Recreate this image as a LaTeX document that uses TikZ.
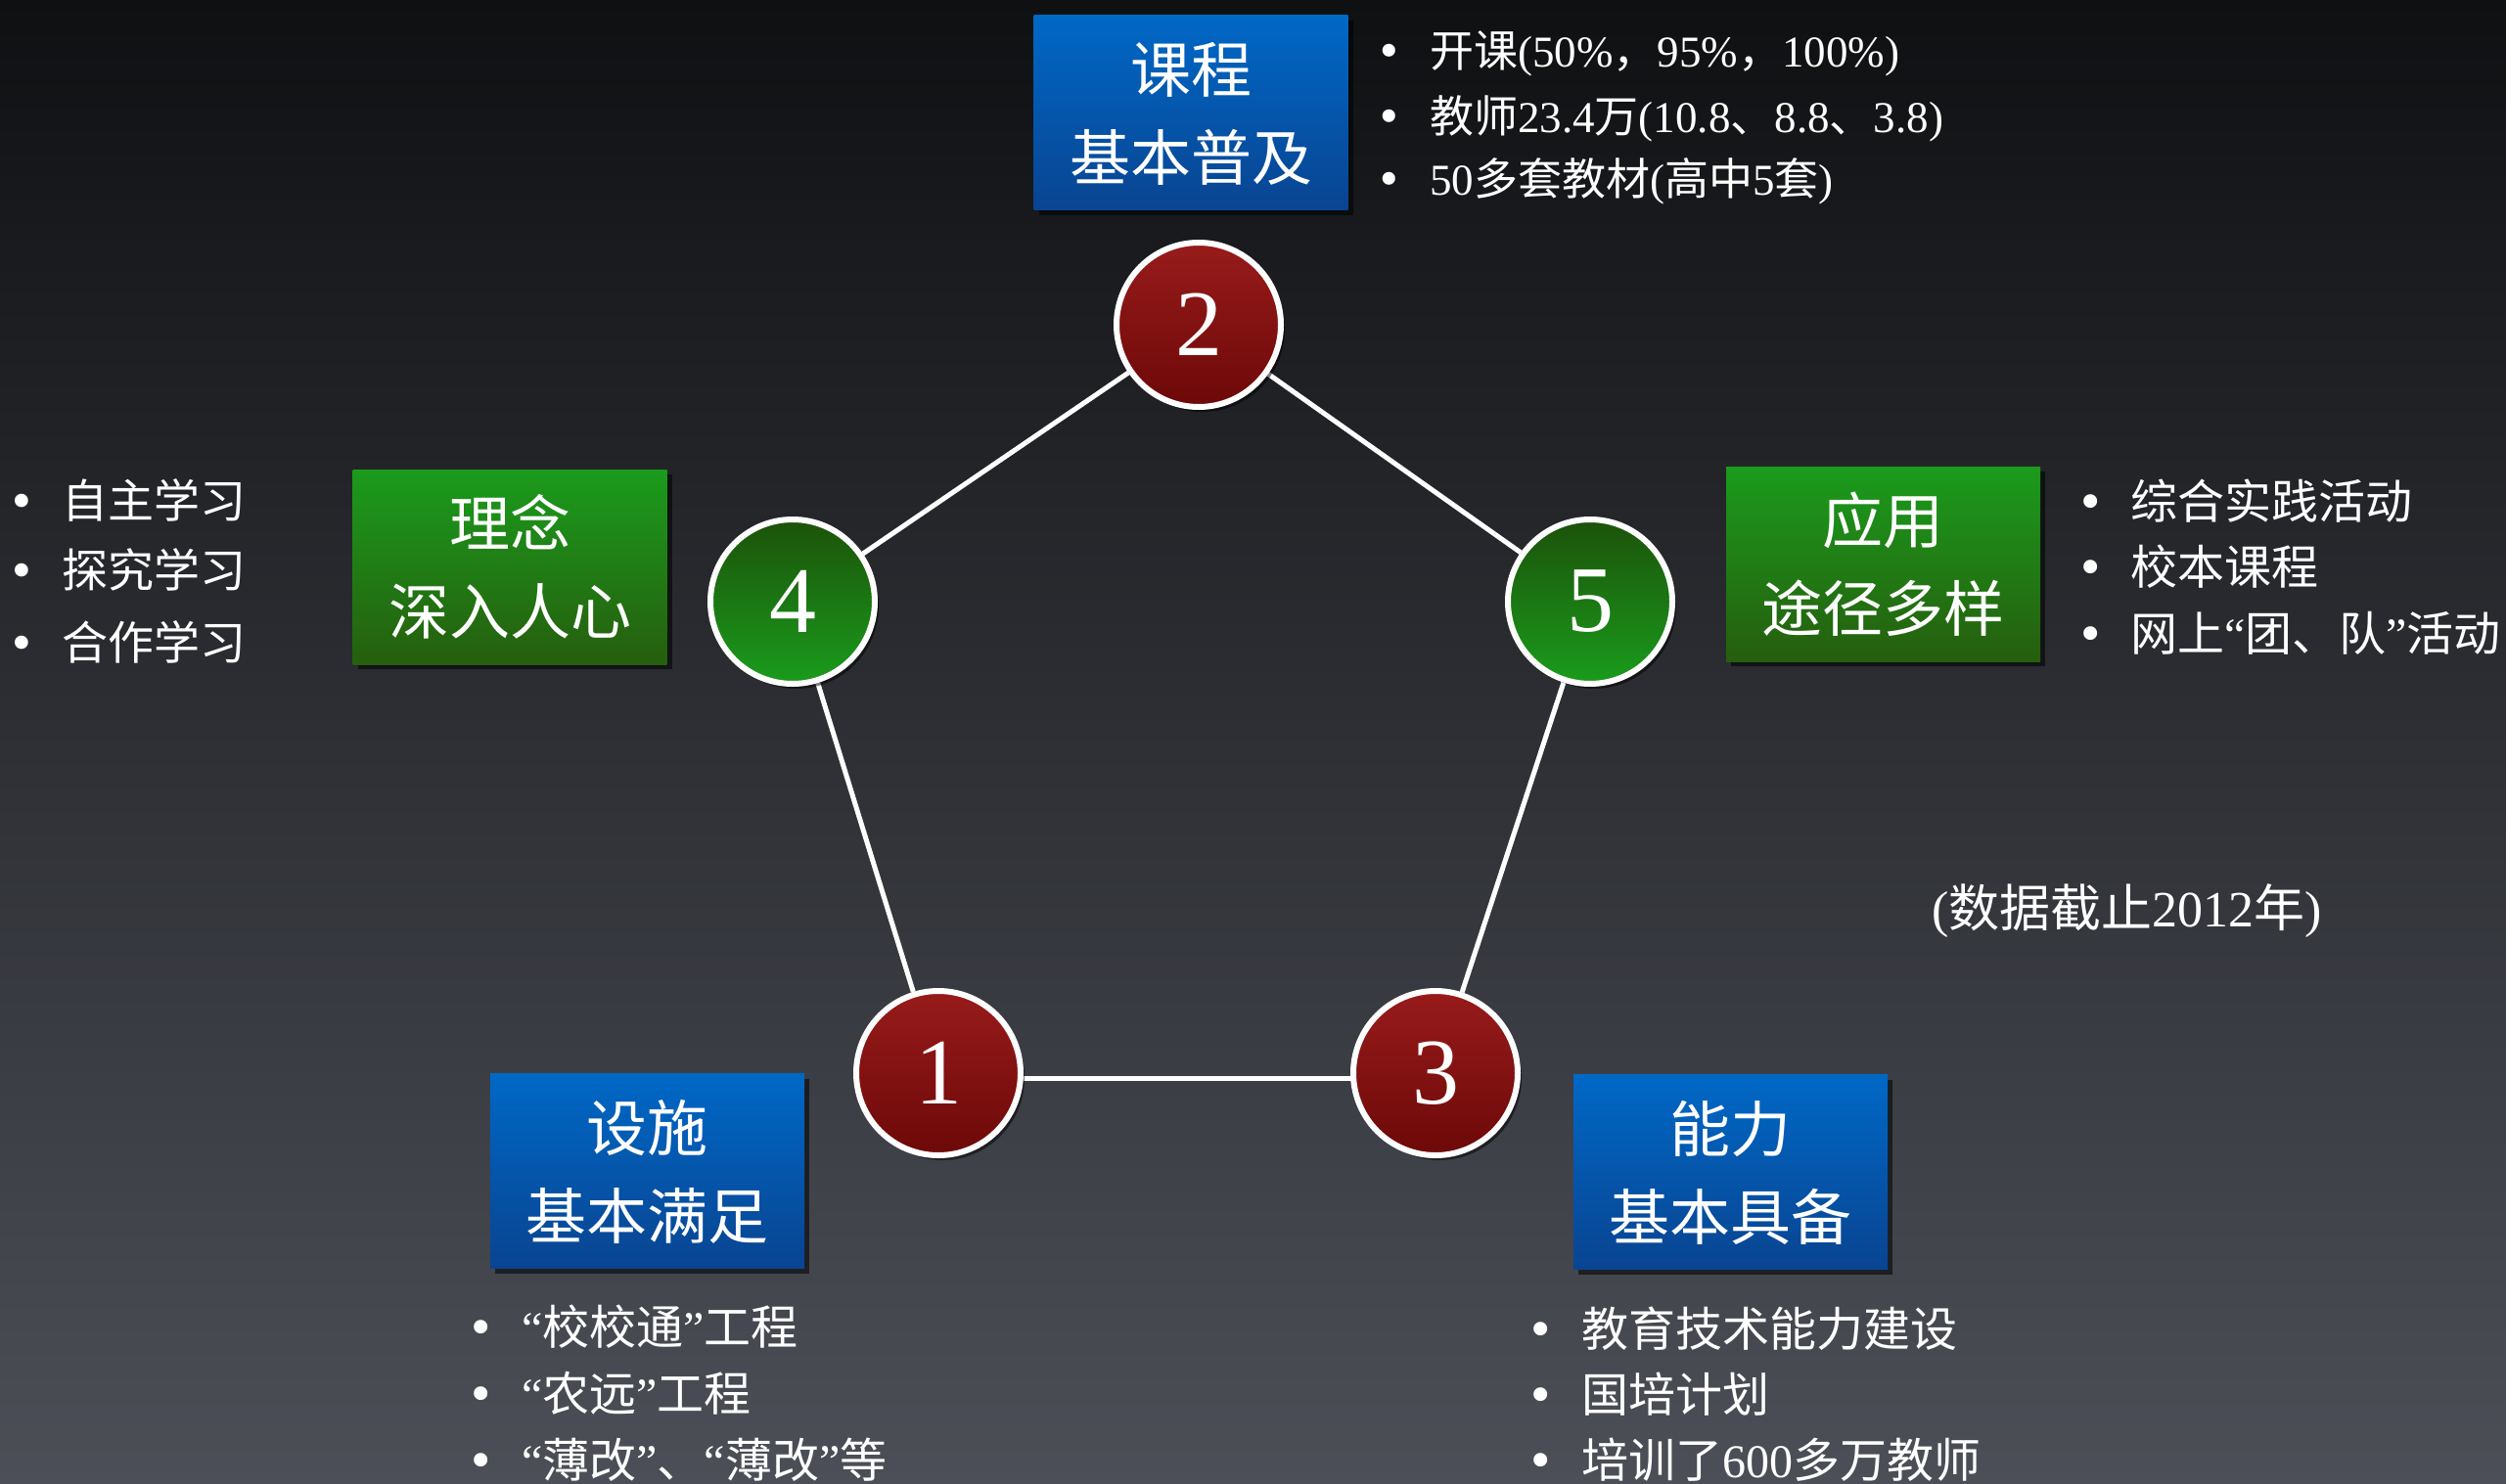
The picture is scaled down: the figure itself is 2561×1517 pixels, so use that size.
\documentclass[tikz,border=0pt]{standalone}
\usepackage{fontspec}
\setmainfont{Liberation Serif}
\newfontfamily\cjk{Noto Sans CJK SC}
\newfontfamily\bulletfont{DejaVu Sans}
\newcommand\zh[1]{{\cjk #1}}
\newcommand\bul[1]{\makebox[#1][l]{\bulletfont •}}
\usetikzlibrary{shadows}
\pgfdeclarelayer{bglayer}
\pgfdeclarelayer{edgelayer}
\pgfsetlayers{bglayer,edgelayer,main}
\definecolor{bgtop}{RGB}{15,16,18}
\definecolor{bgmid}{RGB}{40,42,46}
\definecolor{bgbot}{RGB}{76,79,87}
\definecolor{blueTop}{RGB}{0,104,198}
\definecolor{blueBot}{RGB}{9,68,145}
\definecolor{greenTop}{RGB}{27,155,28}
\definecolor{greenBot}{RGB}{38,94,14}
\definecolor{redTop}{RGB}{152,27,27}
\definecolor{redBot}{RGB}{108,9,8}
\definecolor{gcTop}{RGB}{28,82,10}
\definecolor{gcBot}{RGB}{26,156,28}
\newcommand\ls{\rule[-12pt]{0pt}{72pt}}
\begin{document}
\begin{tikzpicture}[x=1pt,y=-1pt,
  boxbase/.style={rectangle, minimum width=321pt, minimum height=199pt, inner sep=0pt,
    align=center, text=white, font=\cjk\fontsize{62}{90}\selectfont,
    drop shadow={shadow xshift=5pt, shadow yshift=-5pt, opacity=0.55, fill=black}},
  bluebox/.style={boxbase, top color=blueTop, bottom color=blueBot},
  greenbox/.style={boxbase, top color=greenTop, bottom color=greenBot},
  numbase/.style={circle, minimum size=168pt, inner sep=0pt, draw=white, line width=6pt,
    text=white, font=\fontsize{96}{96}\selectfont,
    drop shadow={shadow xshift=4pt, shadow yshift=-5pt, opacity=0.5, fill=black}},
  rednum/.style={numbase, top color=redTop, bottom color=redBot},
  greennum/.style={numbase, top color=gcTop, bottom color=gcBot},
  edge/.style={draw=white, line width=5pt},
  item/.style={anchor=base west, inner sep=0pt, text=white},
  ita/.style={item, font=\fontsize{45}{45}\selectfont},
  itb/.style={item, font=\fontsize{47}{47}\selectfont},
  itc/.style={item, font=\fontsize{48}{48}\selectfont},
]
\useasboundingbox (0,0) rectangle (2561,1517);
\begin{pgfonlayer}{bglayer}
  \shade[top color=bgtop, middle color=bgmid, bottom color=bgbot] (0,0) rectangle (2561,1517);
\end{pgfonlayer}

% circles
\node[rednum]   (n2) at (1225,332) {2};
\node[greennum] (n4) at (810,615) {4};
\node[greennum] (n5) at (1625,615) {5};
\node[rednum]   (n1) at (959,1097) {1};
\node[rednum]   (n3) at (1467,1097) {3};

\begin{pgfonlayer}{edgelayer}
  \draw[edge] ([yshift=-5pt]n1.center) -- ([yshift=-5pt]n3.center);
  \draw[edge] (n3) -- (n5);
  \draw[edge] (n5) -- (n2);
  \draw[edge] (n2) -- (n4);
  \draw[edge] (n4) -- (n1);
\end{pgfonlayer}

% boxes
\node[bluebox]  (b2) at (1217,115.5) {\ls 课程\\\ls 基本普及};
\node[greenbox] (b4) at (521,579.5)  {\ls 理念\\\ls 深入人心};
\node[greenbox] (b5) at (1924.5,576.5) {\ls 应用\\\ls 途径多样};
\node[bluebox]  (b1) at (661.5,1197) {\ls 设施\\\ls 基本满足};
\node[bluebox]  (b3) at (1768.5,1198) {\ls 能力\\\ls 基本具备};

% lists
\node[ita] (t21) at (1406,69)  {\bul{55pt}\zh{开课}(50\%\zh{，}95\%\zh{，}100\%)};
\node[ita] (t22) at (1406,136) {\bul{55pt}\zh{教师}23.4\zh{万}(10.8\zh{、}8.8\zh{、}3.8)};
\node[ita] (t23) at (1406,200) {\bul{55pt}50\zh{多套教材}(\zh{高中}5\zh{套})};

\node[itb] (t41) at (8,529) {\bul{55pt}\zh{自主学习}};
\node[itb] (t42) at (8,600) {\bul{55pt}\zh{探究学习}};
\node[itb] (t43) at (8,674) {\bul{55pt}\zh{合作学习}};

\node[itc] (t51) at (2122,530) {\bul{55pt}\zh{综合实践活动}};
\node[itc] (t52) at (2122,597) {\bul{55pt}\zh{校本课程}};
\node[itc] (t53) at (2122,665) {\bul{55pt}\zh{网上}“\zh{团、队}”\zh{活动}};

\node[itc] (t11) at (477,1374) {\bul{56pt}“\zh{校校通}”\zh{工程}};
\node[itc] (t12) at (477,1442) {\bul{56pt}“\zh{农远}”\zh{工程}};
\node[itc] (t13) at (477,1510) {\bul{56pt}“\zh{薄改}”\zh{、}“\zh{薄改}”\zh{等}};

\node[itc] (t31) at (1560,1376) {\bul{56pt}\zh{教育技术能力建设}};
\node[itc] (t32) at (1560,1443) {\bul{56pt}\zh{国培计划}};
\node[itc] (t33) at (1560,1510) {\bul{56pt}\zh{培训了}600\zh{多万教师}};

\node[item, font=\fontsize{52}{52}\selectfont] (note) at (1974,947) {(\zh{数据截止}2012\zh{年})};
\end{tikzpicture}
\end{document}
